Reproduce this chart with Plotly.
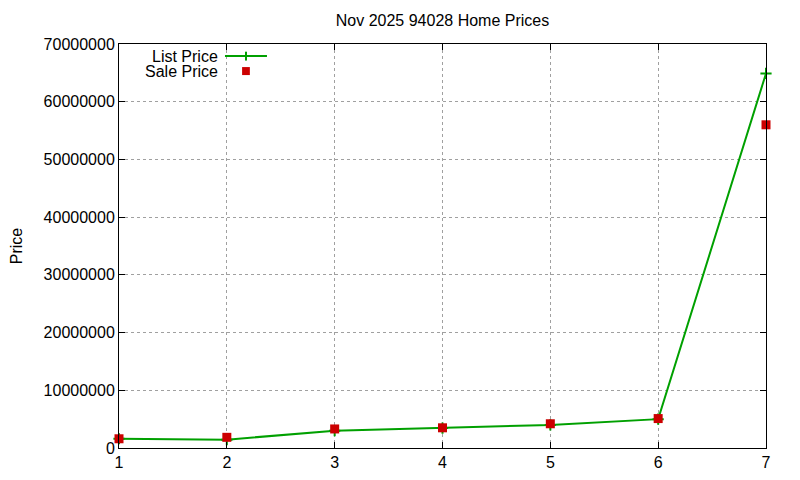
import plotly.graph_objects as go

x_vals = [1, 2, 3, 4, 5, 6, 7]
list_price = [1600000, 1450000, 3000000, 3450000, 4000000, 5000000, 64900000]
sale_price = [1600000, 1850000, 3300000, 3500000, 4200000, 5100000, 56000000]
y_ticks = [0, 10000000, 20000000, 30000000, 40000000, 50000000, 60000000, 70000000]

GREEN = "#00a000"
RED = "#cc0000"
FONT = "Liberation Sans, Arial, sans-serif"

fig = go.Figure()
fig.add_trace(go.Scatter(
    x=x_vals, y=list_price, mode="lines+markers", name="List Price",
    line=dict(color=GREEN, width=2),
    marker=dict(symbol="cross-thin", size=8, line=dict(color=GREEN, width=2)),
    cliponaxis=False, showlegend=False))
fig.add_trace(go.Scatter(
    x=x_vals, y=sale_price, mode="markers", name="Sale Price",
    marker=dict(symbol="square", size=9, color=RED),
    cliponaxis=False, showlegend=False))

axis_common = dict(
    showline=True, linecolor="black", linewidth=1, mirror="ticks",
    ticks="inside", ticklen=6, tickcolor="black",
    showgrid=True, gridcolor="#a0a0a0", griddash="dot", gridwidth=1,
    zeroline=False, tickfont=dict(family=FONT, size=16, color="black"),
    automargin=False,
)
fig.update_xaxes(range=[1, 7], tickvals=x_vals, **axis_common)
fig.update_yaxes(range=[0, 70000000], tickvals=y_ticks,
                 ticktext=[str(v) for v in y_ticks],
                 title=dict(text="Price", font=dict(family=FONT, size=16, color="black"), standoff=26),
                 **axis_common)

# legend (gnuplot style: text then sample)
lx0, lx1, ly1, ly2 = 0.1638, 0.2287, 0.970, 0.933
lxc = (lx0 + lx1) / 2
fig.add_shape(type="line", xref="paper", yref="paper", x0=lx0, x1=lx1, y0=ly1, y1=ly1,
              line=dict(color=GREEN, width=2))
fig.add_shape(type="line", xref="paper", yref="paper", x0=lxc, x1=lxc,
              y0=ly1 - 0.011, y1=ly1 + 0.011, line=dict(color=GREEN, width=2))
fig.add_shape(type="rect", xref="paper", yref="paper",
              x0=lxc - 0.006, x1=lxc + 0.006,
              y0=ly2 - 0.0099, y1=ly2 + 0.0099, fillcolor=RED, line=dict(width=0))
fig.add_annotation(xref="paper", yref="paper", x=0.1546, y=ly1, text="List Price",
                   showarrow=False, font=dict(family=FONT, size=16, color="black"),
                   xanchor="right", yanchor="middle", borderpad=0)
fig.add_annotation(xref="paper", yref="paper", x=0.1546, y=ly2, text="Sale Price",
                   showarrow=False, font=dict(family=FONT, size=16, color="black"),
                   xanchor="right", yanchor="middle", borderpad=0)

# page body has an 8px default margin, so shift the plot area up/left by 8px
fig.update_layout(
    width=800, height=480,
    margin=dict(l=111, r=42, t=36, b=40, autoexpand=False),
    paper_bgcolor="white", plot_bgcolor="white",
    title=dict(text="Nov 2025 94028 Home Prices", xref="paper", x=0.5, xanchor="center",
               yref="container", y=1 - 12 / 480, yanchor="middle",
               font=dict(family=FONT, size=16, color="black")),
    showlegend=False,
)

fig.write_html("out.html")
